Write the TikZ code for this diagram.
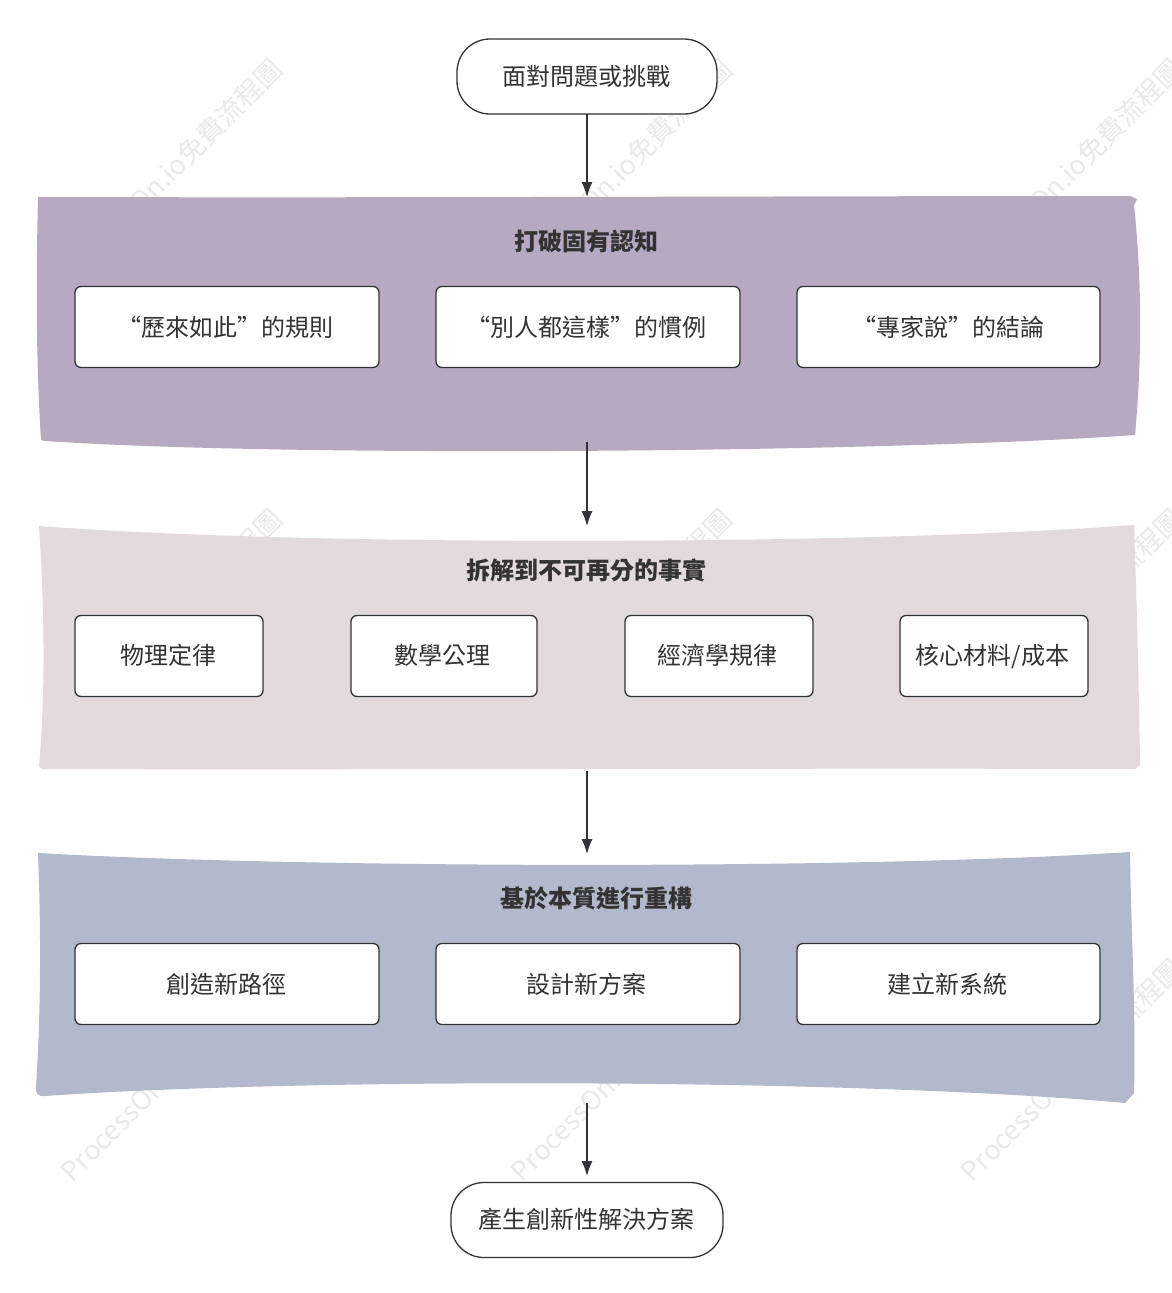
\documentclass[tikz,border=0pt]{standalone}
\usepackage{fontspec}
\setmainfont{Noto Sans CJK TC}
\usetikzlibrary{arrows.meta}
\definecolor{ink}{HTML}{333333}
\definecolor{edgecol}{HTML}{323337}
\definecolor{bandA}{HTML}{B8A9C2}
\definecolor{bandB}{HTML}{E3DADC}
\definecolor{bandC}{HTML}{B3B9CD}
\definecolor{wmcol}{HTML}{E9E9E9}
\tikzset{
  x=1pt,y=-1pt,
  stepbox/.style={draw=edgecol,line width=1.3pt,fill=white,rounded corners=6pt,inner sep=0pt,outer sep=0pt,minimum height=81pt},
  termbox/.style={draw=edgecol,line width=1.3pt,fill=white,rounded corners=33pt,inner sep=0pt,outer sep=0pt,minimum height=75pt,text=ink,text height=20pt,text depth=4pt,font=\fontsize{24}{28}\selectfont},
  bandtitle/.style={inner sep=0pt,text=ink,font=\fontsize{24}{28}\selectfont\bfseries},
  lbl/.style={inner sep=0pt,text=ink,text height=21pt,text depth=3pt,font=\fontsize{24}{28}\selectfont},
  flow/.style={draw=edgecol,line width=1.3pt,-{Latex[length=15pt,width=11pt]}},
  wmark/.style={inner sep=0pt,text=wmcol,rotate=45,font=\fontsize{27}{31}\selectfont},
}
\begin{document}
\begin{tikzpicture}
\useasboundingbox (0,0) rectangle (1172,1293);
\begin{scope}
\clip (0,0) rectangle (1172,1293);
\foreach \cx/\cn in {171.5/l,621.5/m,1071.5/r}{
  \foreach \cy in {170,620,1070}{
    \node[wmark] (wm\cn\cy) at (\cx,\cy) {ProcessOn.io免費流程圖};
  }
}
\end{scope}
% bands
\fill[bandA] (38,197) .. controls (400,198) and (800,196) .. (1130,196) -- (1137,199) -- (1134,205)
  .. controls (1142,280) and (1142,360) .. (1135,435)
  .. controls (900,452) and (300,458) .. (45,441) -- (41,440)
  .. controls (36,360) and (36,280) .. (38,197) -- cycle;
\fill[bandB] (39,526) .. controls (300,546) and (850,546) .. (1134,525)
  .. controls (1137,610) and (1139,690) .. (1140,765)
  -- (1135,769) .. controls (800,768) and (300,770) .. (42,769) -- (39,766)
  .. controls (46,690) and (44,600) .. (39,526) -- cycle;
\fill[bandC] (38,853) .. controls (300,868) and (850,870) .. (1130,852)
  .. controls (1131,930) and (1136,1010) .. (1134,1093)
  -- (1125,1103) .. controls (850,1078) and (300,1078) .. (45,1096)
  .. controls (38,1097) and (35,1093) .. (36,1086)
  .. controls (41,1010) and (41,930) .. (38,853) -- cycle;
% free ends of the connectors, on the band edges
\coordinate (bandAtop) at (587,197);
\coordinate (bandAbot) at (587,442);
\coordinate (bandBtop) at (587,526);
\coordinate (bandBbot) at (587,771);
\coordinate (bandCtop) at (587,854);
\coordinate (bandCbot) at (587,1103);
\coordinate (endtip) at (587,1176);
% terminals
\node[termbox,minimum width=260pt] (start) at (587,76.5) {};
\node[inner sep=0pt,text=ink,text height=20pt,text depth=4pt,font=\fontsize{24}{28}\selectfont] (startt) at (586.5,77) {面對問題或挑戰};
\node[termbox,minimum width=272pt] (finish) at (587,1220) {};
\node[inner sep=0pt,text=ink,text height=20pt,text depth=4pt,font=\fontsize{24}{28}\selectfont] (finisht) at (586.5,1220) {產生創新性解決方案};
% titles
\node[bandtitle] (tA) at (586.5,241) {打破固有認知};
\node[bandtitle] (tB) at (586.5,570) {拆解到不可再分的事實};
\node[bandtitle] (tC) at (596,898) {基於本質進行重構};
% band A
\node[stepbox,minimum width=304pt] (a1) at (227,327) {};
\node[stepbox,minimum width=304pt] (a2) at (588,327) {};
\node[stepbox,minimum width=303pt] (a3) at (948.5,327) {};
\node[lbl] (a1t) at (225.5,327) {“歷來如此”的規則};
\node[lbl] (a2t) at (586.5,327) {“別人都這樣”的慣例};
\node[lbl] (a3t) at (948,327) {“專家說”的結論};
% band B
\node[stepbox,minimum width=188pt] (b1) at (169,656) {};
\node[stepbox,minimum width=186pt] (b2) at (444,656) {};
\node[stepbox,minimum width=188pt] (b3) at (719,656) {};
\node[stepbox,minimum width=188pt] (b4) at (994,656) {};
\node[lbl] (b1t) at (168,655) {物理定律};
\node[lbl] (b2t) at (442,655) {數學公理};
\node[lbl] (b3t) at (717,655) {經濟學規律};
\node[lbl] (b4t) at (992.5,655) {核心材料/成本};
% band C
\node[stepbox,minimum width=304pt] (c1) at (227,984) {};
\node[stepbox,minimum width=304pt] (c2) at (588,984) {};
\node[stepbox,minimum width=303pt] (c3) at (948.5,984) {};
\node[lbl] (c1t) at (226,984) {創造新路徑};
\node[lbl] (c2t) at (586.5,984) {設計新方案};
\node[lbl] (c3t) at (947,984) {建立新系統};
% connectors
\draw[flow] (start.south) -- (bandAtop);
\draw[flow] (bandAbot) -- (bandBtop);
\draw[flow] (bandBbot) -- (bandCtop);
\draw[flow] (bandCbot) -- (endtip);
\end{tikzpicture}
\end{document}
